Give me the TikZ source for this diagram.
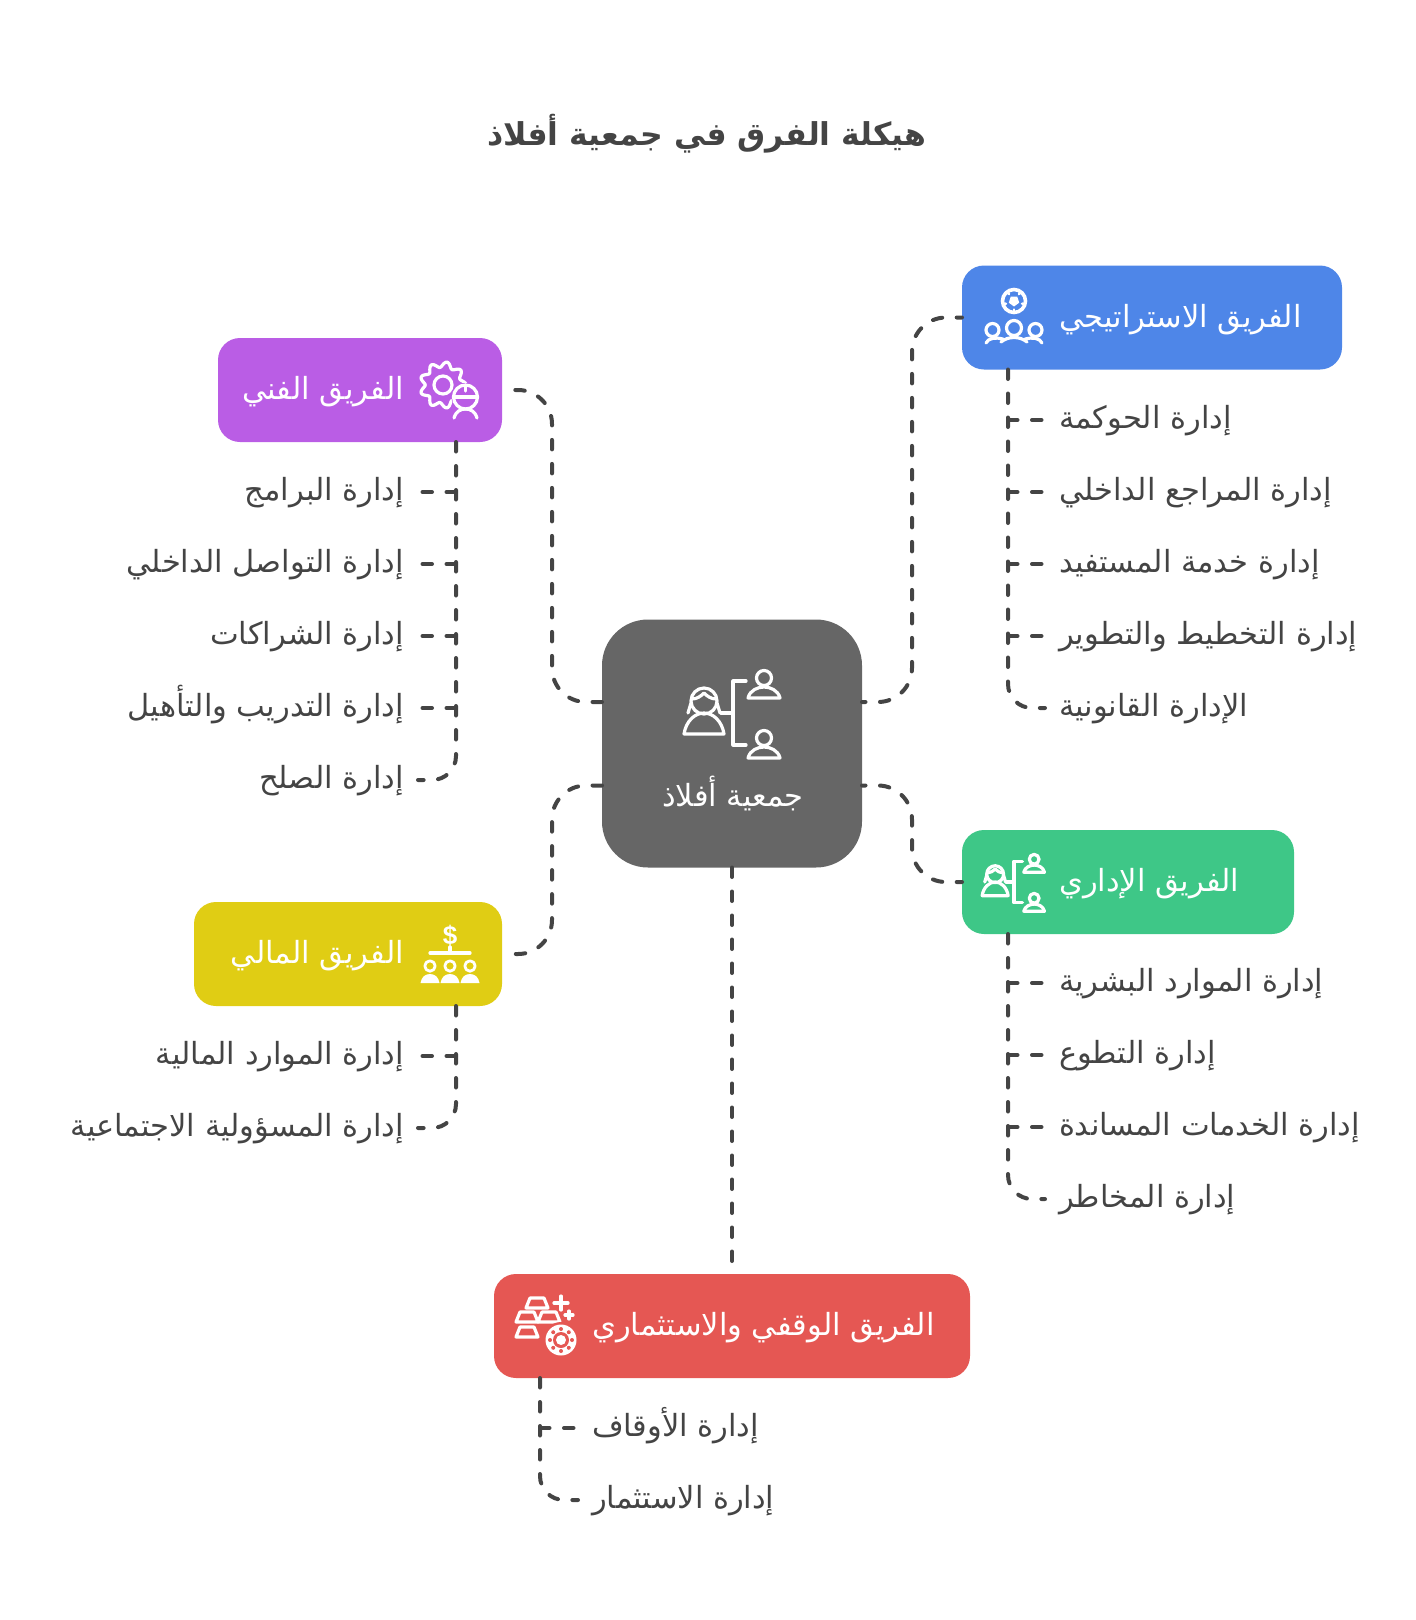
\documentclass[tikz,border=0pt]{standalone}
\usepackage{fontspec}
\usetikzlibrary{shapes,arrows.meta,positioning,calc}
\newfontfamily\arabicfont[Script=Arabic]{DejaVu Sans}
\newfontfamily\iconfont{Liberation Sans}
\TeXXeTstate=1
\newcommand{\ar}[1]{\beginR #1\endR}
\definecolor{inkgray}{HTML}{444444}
\definecolor{hubgray}{HTML}{666666}
\definecolor{teamblue}{HTML}{4E86E8}
\definecolor{teampurple}{HTML}{BA5DE5}
\definecolor{teamyellow}{HTML}{E0CD14}
\definecolor{teamgreen}{HTML}{3EC787}
\definecolor{teamred}{HTML}{E55753}
\tikzset{
  teambox/.style={rounded corners=22pt,inner sep=0pt,outer sep=0pt},
  teamtext/.style={font=\arabicfont\fontsize{30.5}{36}\selectfont,text=white,inner sep=0pt,text height=22pt,text depth=3pt},
  leafbase/.style={font=\arabicfont\fontsize{30.5}{36}\selectfont,text=inkgray,inner ysep=0pt,inner xsep=14pt,outer sep=0pt,text height=22pt,text depth=5pt},
  leafright/.style={leafbase,anchor=west},
  leafleft/.style={leafbase,anchor=east},
  link/.style={draw=inkgray,line width=4pt,line cap=round,dash pattern=on 9.5pt off 14.5pt},
  iconline/.style={draw=white,line width=3.2pt,line cap=round,line join=round},
  orgicon/.pic={
    \draw[iconline] (-29,-12) circle (13);
    \draw[iconline] (-41,-14) .. controls (-36,-14) and (-32,-17) .. (-29,-20) .. controls (-26,-17) and (-22,-14) .. (-17,-14);
    \draw[iconline] (-42,-10) -- (-45,0);
    \draw[iconline] (-16,-10) -- (-13,0);
    \draw[iconline] (-49,21) .. controls (-47,8) and (-38,0) .. (-29,0) .. controls (-20,0) and (-11,8) .. (-9,21) -- cycle;
    \draw[iconline] (-12,0) -- (0,0);
    \draw[iconline] (13,-32) -- (0,-32) -- (0,32) -- (13,32);
    \foreach \y in {-15,45} {
      \draw[iconline] (31,\y-20) circle (7.5);
      \draw[iconline] (15,\y) .. controls (17,\y-8) and (25,\y-11) .. (31,\y-11) .. controls (37,\y-11) and (45,\y-8) .. (47,\y) -- cycle;
    }
  },
  ballteamicon/.pic={
    \draw[iconline,line width=3.6pt] (0,0) circle (11.5);
    \fill[white] (90:5.5) -- (162:5.5) -- (234:5.5) -- (306:5.5) -- (18:5.5) -- cycle;
    \foreach \a in {90,162,234,306,18} \draw[iconline,line width=2.6pt] (\a:8.5) -- (\a:11);
    \draw[iconline] (-21.5,29) circle (6.5);
    \draw[iconline] (0,27) circle (7.5);
    \draw[iconline] (21.5,29) circle (6.5);
    \draw[iconline] (-28,42) .. controls (-26,37) and (-18,36) .. (-11,38);
    \draw[iconline] (28,42) .. controls (26,37) and (18,36) .. (11,38);
    \draw[iconline] (-13,41) .. controls (-6,35) and (6,35) .. (13,41);
  },
  gearworkericon/.pic={
    \draw[iconline] plot[domain=0:360,samples=145,smooth] ({(20.5+2.7*cos(9*\x))*cos(\x)},{(20.5+2.7*cos(9*\x))*sin(\x)});
    \draw[iconline] (0,0) circle (9);
    \fill[teampurple] (22.5,12) circle (14);
    \draw[iconline] (22.5,12) circle (12);
    \draw[iconline] (10.5,12) -- (34.5,12);
    \draw[iconline] (22.5,0) -- (22.5,6);
    \draw[iconline] (11,33) .. controls (13,26) and (18,24) .. (22.5,24) .. controls (27,24) and (32,26) .. (34,33);
  },
  moneyteamicon/.pic={
    \node[text=white,font=\iconfont\bfseries\fontsize{26}{26}\selectfont,inner sep=0pt] (dollarmark) at (0,-17) {\$};
    \draw[iconline] (0,-6) -- (0,0);
    \draw[iconline] (-20,0) -- (20,0);
    \foreach \x in {-20,0,20} {
      \draw[iconline,line width=2.8pt] (\x,13) circle (5.2);
      \fill[white] (\x-9.5,30) .. controls (\x-8.5,24) and (\x-5,21) .. (\x,21) .. controls (\x+5,21) and (\x+8.5,24) .. (\x+9.5,30) -- cycle;
    }
  },
  goldbar/.pic={
    \draw[iconline,line width=3.2pt] (-11,5) -- (-7,-5) -- (7,-5) -- (11,5) -- cycle;
  },
  goldbearingicon/.pic={
    \pic at (-24,-37) {goldbar};
    \pic at (-34,-23) {goldbar};
    \pic at (-12,-23) {goldbar};
    \pic at (-34,-8) {goldbar};
    \draw[iconline] (-7,-37) -- (7,-37) (0,-44) -- (0,-30);
    \draw[iconline] (4,-25) -- (12,-25) (8,-29) -- (8,-21);
    \fill[teamred] (0,0) circle (18);
    \fill[white] (0,0) circle (15.5);
    \foreach \a in {0,45,...,315} \fill[teamred] (\a:11) circle (2);
    \fill[teamred] (0,0) circle (8);
    \fill[white] (0,0) circle (5);
  },
}
\begin{document}
\begin{tikzpicture}[x=1pt,y=-1pt]
  \useasboundingbox (0,0) rectangle (1416,1620);
  \node[font=\arabicfont\bfseries\fontsize{31.5}{38}\selectfont,text=inkgray,inner sep=0pt] (title) at (707,134) {\ar{هيكلة الفرق في جمعية أفلاذ}};
  % boxes
  \node[teambox,fill=hubgray,rounded corners=46pt,minimum width=260pt,minimum height=248pt] (center) at (732,743.5) {};
  \node[teambox,fill=teamblue,minimum width=380pt,minimum height=104pt] (blue) at (1152,317.5) {};
  \node[teambox,fill=teampurple,minimum width=284pt,minimum height=104pt] (purple) at (360,390) {};
  \node[teambox,fill=teamyellow,minimum width=308pt,minimum height=104pt] (yellow) at (348,954) {};
  \node[teambox,fill=teamgreen,minimum width=332pt,minimum height=104pt] (green) at (1128,882) {};
  \node[teambox,fill=teamred,minimum width=476pt,minimum height=104pt] (red) at (732,1326) {};
  % box texts
  \node[teamtext] (centertext) at (733,797) {\ar{جمعية أفلاذ}};
  \node[teamtext,anchor=west] (bluetext) at (1059,317.5) {\ar{الفريق الاستراتيجي}};
  \node[teamtext,anchor=east] (purpletext) at (404,390) {\ar{الفريق الفني}};
  \node[teamtext,anchor=east] (yellowtext) at (404,954) {\ar{الفريق المالي}};
  \node[teamtext,anchor=west] (greentext) at (1059,882) {\ar{الفريق الإداري}};
  \node[teamtext,anchor=west] (redtext) at (592,1326) {\ar{الفريق الوقفي والاستثماري}};
  % icons
  \pic at (733,713) {orgicon};
  \pic[scale=.65] at (1014,882) {orgicon};
  \pic at (1014,301) {ballteamicon};
  \pic at (443,385) {gearworkericon};
  \pic at (450,953) {moneyteamicon};
  \pic at (561,1340) {goldbearingicon};
  % leaves
  \node[leafright] (blue1) at (1045,420) {\ar{إدارة الحوكمة}};
  \node[leafright] (blue2) at (1045,492) {\ar{إدارة المراجع الداخلي}};
  \node[leafright] (blue3) at (1045,564) {\ar{إدارة خدمة المستفيد}};
  \node[leafright] (blue4) at (1045,636) {\ar{إدارة التخطيط والتطوير}};
  \node[leafright] (blue5) at (1045,708) {\ar{الإدارة القانونية}};
  \node[leafleft] (purple1) at (418,492) {\ar{إدارة البرامج}};
  \node[leafleft] (purple2) at (418,564) {\ar{إدارة التواصل الداخلي}};
  \node[leafleft] (purple3) at (418,636) {\ar{إدارة الشراكات}};
  \node[leafleft] (purple4) at (418,708) {\ar{إدارة التدريب والتأهيل}};
  \node[leafleft] (purple5) at (418,780) {\ar{إدارة الصلح}};
  \node[leafleft] (yellow1) at (418,1056) {\ar{إدارة الموارد المالية}};
  \node[leafleft] (yellow2) at (418,1128) {\ar{إدارة المسؤولية الاجتماعية}};
  \node[leafright] (green1) at (1045,983) {\ar{إدارة الموارد البشرية}};
  \node[leafright] (green2) at (1045,1055) {\ar{إدارة التطوع}};
  \node[leafright] (green3) at (1045,1127) {\ar{إدارة الخدمات المساندة}};
  \node[leafright] (green4) at (1045,1199) {\ar{إدارة المخاطر}};
  \node[leafright] (red1) at (578,1428) {\ar{إدارة الأوقاف}};
  \node[leafright] (red2) at (578,1500) {\ar{إدارة الاستثمار}};
  % hub links
  \coordinate (bendR) at (912,0);
  \coordinate (bendL) at (552,0);
  \coordinate (hubNE) at ([yshift=41.5pt]center.east);
  \coordinate (hubSE) at ([yshift=-42pt]center.east);
  \coordinate (hubNW) at ([yshift=41.5pt]center.west);
  \coordinate (hubSW) at ([yshift=-42pt]center.west);
  \draw[link,dash phase=6pt,rounded corners=34pt] (hubNE) -| (bendR |- blue.west) -- (blue.west);
  \draw[link,dash phase=6pt,rounded corners=34pt] (hubSE) -| (bendR |- green.west) -- (green.west);
  \draw[link,rounded corners=34pt] (hubNW) -| (bendL |- purple.east) -- (purple.east);
  \draw[link,rounded corners=34pt] (hubSW) -| (bendL |- yellow.east) -- (yellow.east);
  \draw[link] (center.south) -- (red.north);
  % trunks
  \coordinate (blueroot) at ([xshift=46pt]blue.south west);
  \coordinate (greenroot) at ([xshift=46pt]green.south west);
  \coordinate (redroot) at ([xshift=46pt]red.south west);
  \coordinate (purpleroot) at ([xshift=-46pt]purple.south east);
  \coordinate (yellowroot) at ([xshift=-46pt]yellow.south east);
  \draw[link,rounded corners=24pt] (blueroot) |- (blue5.west);
  \draw[link,rounded corners=24pt] (greenroot) |- (green4.west);
  \draw[link,rounded corners=24pt] (redroot) |- (red2.west);
  \draw[link,rounded corners=24pt] (purpleroot) |- (purple5.east);
  \draw[link,rounded corners=24pt] (yellowroot) |- (yellow2.east);
  \foreach \n in {1,2,3,4} \draw[link] (blueroot |- blue\n.west) -- (blue\n.west);
  \foreach \n in {1,2,3} \draw[link] (greenroot |- green\n.west) -- (green\n.west);
  \draw[link] (redroot |- red1.west) -- (red1.west);
  \foreach \n in {1,2,3,4} \draw[link] (purpleroot |- purple\n.east) -- (purple\n.east);
  \draw[link] (yellowroot |- yellow1.east) -- (yellow1.east);
\end{tikzpicture}
\end{document}
